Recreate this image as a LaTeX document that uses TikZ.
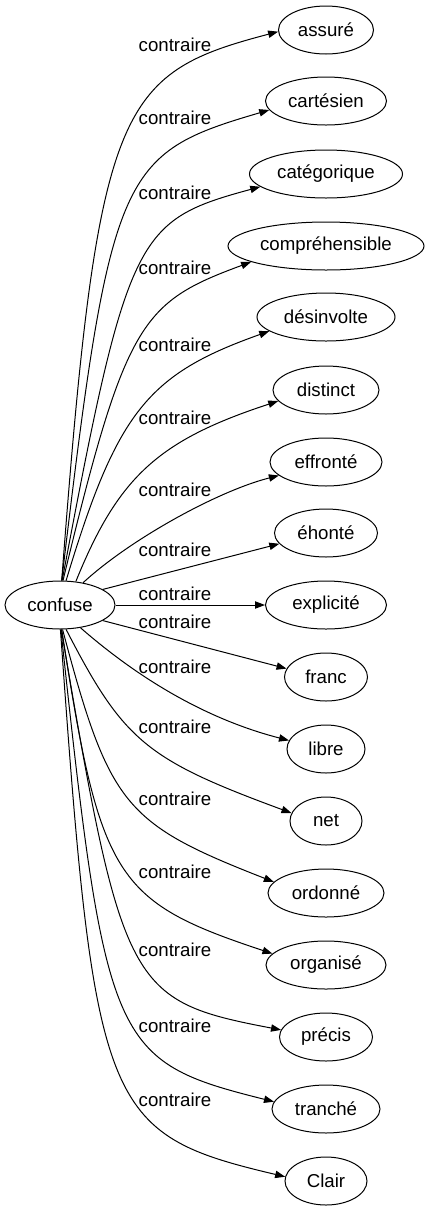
\documentclass[tikz,border=0pt]{standalone}
\usepackage{fontspec}
\setmainfont{Liberation Sans}
\usetikzlibrary{shapes.geometric,arrows.meta,calc}
\begin{document}
\begin{tikzpicture}[x=0.75pt,y=-0.75pt,
  every node/.style={font=\fontsize{14pt}{16pt}\selectfont},
  word/.style={draw,ellipse,line width=0.75pt,minimum height=36pt,inner sep=0pt,minimum width=#1*0.75pt},
  lbl/.style={inner sep=0pt},
  edge/.style={line width=0.75pt,-{Triangle[length=7.5pt,width=5.5pt]}}]
\useasboundingbox (0,0) rectangle (429,1211);
\node[word=110] (src) at (60,605) {confuse};
\node[word=95]  (t1)  at (326,30)   {assuré};
\node[word=121] (t2)  at (326,101)  {cartésien};
\node[word=153] (t3)  at (326,174)  {catégorique};
\node[word=196] (t4)  at (326,246)  {compréhensible};
\node[word=138] (t5)  at (326,317)  {désinvolte};
\node[word=106] (t6)  at (326,390)  {distinct};
\node[word=112] (t7)  at (326,462)  {effronté};
\node[word=103] (t8)  at (326,533)  {éhonté};
\node[word=121] (t9)  at (326,605)  {explicité};
\node[word=83]  (t10) at (326,677)  {franc};
\node[word=78]  (t11) at (326,749)  {libre};
\node[word=72]  (t12) at (326,821)  {net};
\node[word=116] (t13) at (326,893)  {ordonné};
\node[word=120] (t14) at (326,965)  {organisé};
\node[word=93]  (t15) at (326,1037) {précis};
\node[word=108] (t16) at (326,1109) {tranché};
\node[word=82]  (t17) at (326,1181) {Clair};
% labels
\node[lbl] (l1)  at (175,45)   {contraire};
\node[lbl] (l2)  at (175,118)  {contraire};
\node[lbl] (l3)  at (175,193)  {contraire};
\node[lbl] (l4)  at (175,268)  {contraire};
\node[lbl] (l5)  at (175,345)  {contraire};
\node[lbl] (l6)  at (175,418)  {contraire};
\node[lbl] (l7)  at (175,490)  {contraire};
\node[lbl] (l8)  at (175,550)  {contraire};
\node[lbl] (l9)  at (175,594)  {contraire};
\node[lbl] (l10) at (175,622)  {contraire};
\node[lbl] (l11) at (175,667)  {contraire};
\node[lbl] (l12) at (175,727)  {contraire};
\node[lbl] (l13) at (175,799)  {contraire};
\node[lbl] (l14) at (175,872)  {contraire};
\node[lbl] (l15) at (175,950)  {contraire};
\node[lbl] (l16) at (175,1026) {contraire};
\node[lbl] (l17) at (175,1100) {contraire};
% edges: start anchor, corner, fractions, end anchor
\newcommand\bend[6]{%
  \draw[edge] (#1) .. controls ($(#1)!#3!(#2)$) and ($(#5)!#4!(#2)$) .. (#5);}
\bend{src.86}{99.5,78.5}{0.95}{0.9}{t1.182}{}
\bend{src.86}{112,156}{0.97}{0.95}{t2.189}{}
\bend{src.85}{129.7,222.2}{0.97}{0.95}{t3.191}{}
\bend{src.83}{129,307}{0.95}{0.9}{t4.192}{}
\bend{src.76}{126,382}{0.85}{0.85}{t5.194}{}
\bend{src.56}{129,450}{0.8}{0.8}{t6.193}{}
\bend{src.44}{169.2,503.2}{0.55}{0.55}{t7.196}{}
\draw[edge] (src.20) -- (t8.193);
\draw[edge] (src) -- (t9);
\draw[edge] (src.-20) -- (t10.168);
\bend{src.-48}{176.6,711.6}{0.75}{0.6}{t11.167}{}
\bend{src.-76}{130,753.5}{0.9}{0.9}{t12.167}{}
\bend{src.-84}{113,819}{0.93}{0.93}{t13.168}{}
\bend{src.-86}{103,897.5}{0.93}{0.93}{t14.168}{}
\bend{src.-87}{124,1000}{0.97}{0.97}{t15.171}{}
\bend{src.-88}{107,1060}{0.97}{0.97}{t16.172}{}
\bend{src.-89}{96,1132}{0.96}{0.96}{t17.174}{}
\end{tikzpicture}
\end{document}
